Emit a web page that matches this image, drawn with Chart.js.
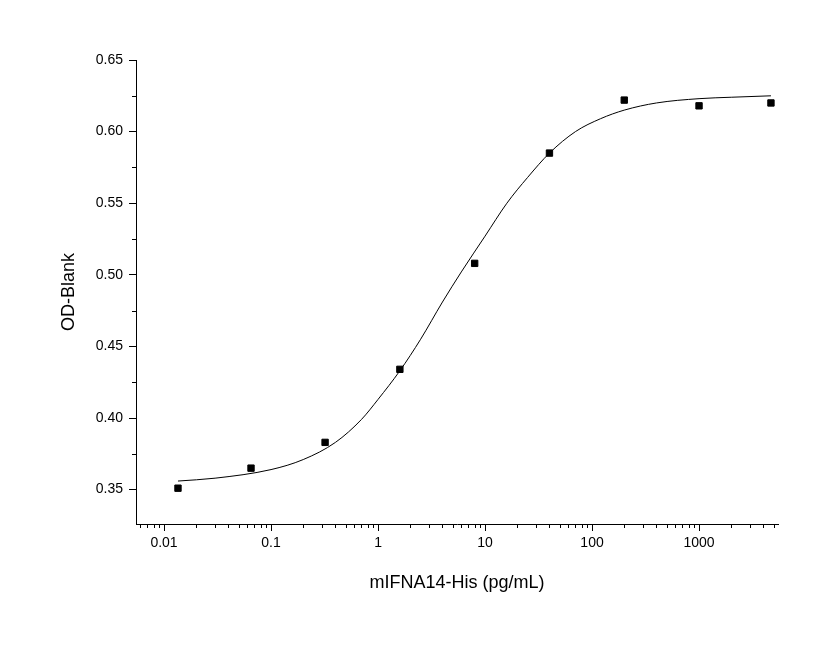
<!DOCTYPE html>
<html><head><meta charset="utf-8">
<script src="https://cdn.jsdelivr.net/npm/chart.js@4/dist/chart.umd.min.js"></script>
<style>html,body{margin:0;padding:0;background:#fff}#w{width:820px;height:648px}</style>
</head><body><div id="w"><canvas id="c"></canvas></div>
<script>
const doseX = [0.0135, 0.065, 0.32, 1.6, 8, 40, 200, 1000, 4700];
const odY = [0.351, 0.365, 0.383, 0.434, 0.508, 0.585, 0.622, 0.618, 0.620];
const fitX = [0.0135, 0.03, 0.1, 0.2, 0.4, 0.7, 1, 1.6, 2.5, 4, 6, 10, 16, 25, 40, 70, 120, 200, 400, 1000, 2000, 4700];
const fitY = [0.356, 0.358, 0.364, 0.371, 0.383, 0.399, 0.413, 0.433, 0.455, 0.481, 0.502, 0.527, 0.550, 0.568, 0.585, 0.600, 0.609, 0.615, 0.620, 0.623, 0.624, 0.625];
const xMajor = [0.01, 0.1, 1, 10, 100, 1000];
const xLabels = ['0.01', '0.1', '1', '10', '100', '1000'];
const yMajor = [0.35, 0.40, 0.45, 0.50, 0.55, 0.60, 0.65];

const F = 'Liberation Sans, Arial, sans-serif';
const minor = {
  id: 'minor',
  afterDraw(ch) {
    const c = ch.ctx, xs = ch.scales.x, ys = ch.scales.y, a = ch.chartArea;
    c.save(); c.strokeStyle = '#000'; c.lineWidth = 1;
    c.beginPath();
    for (let d = -3; d <= 3; d++) for (let m = 2; m <= 9; m++) {
      const v = m * Math.pow(10, d);
      if (v < xs.min || v > xs.max) continue;
      const p = Math.round(xs.getPixelForValue(v)) + 0.5;
      c.moveTo(p, a.bottom); c.lineTo(p, a.bottom + 4);
    }
    for (let v = 0.325; v < 0.66; v += 0.05) {
      if (v < ys.min || v > ys.max) continue;
      const p = Math.round(ys.getPixelForValue(v)) + 0.5;
      c.moveTo(a.left, p); c.lineTo(a.left - 4, p);
    }
    c.stroke(); c.restore();
  }
};
new Chart(document.getElementById('c'), {
  type: 'scatter',
  data: { datasets: [
    { type: 'line', data: fitX.map((x, i) => ({x, y: fitY[i]})), borderColor: '#000', borderWidth: 1, pointRadius: 0, cubicInterpolationMode: 'monotone', fill: false },
    { data: doseX.map((x, i) => ({x, y: odY[i]})), backgroundColor: '#000', borderColor: '#000', pointStyle: 'rect', pointRadius: 4.5 }
  ]},
  options: {
    responsive: true, maintainAspectRatio: false, animation: false,
    layout: { padding: { top: 60, right: 42, left: 54, bottom: 50 } },
    plugins: { legend: { display: false }, tooltip: { enabled: false } },
    scales: {
      x: { type: 'logarithmic', min: 0.00547, max: 5470,
        afterBuildTicks: s => { s.ticks = xMajor.map(v => ({value: v})); },
        afterFit: s => { s.height = 74; },
        ticks: { color: '#000', font: { family: F, size: 14 }, maxRotation: 0, padding: 4, callback: (v) => { const i = xMajor.findIndex(m => Math.abs(m - v) / m < 1e-6); return i >= 0 ? xLabels[i] : ''; } },
        grid: { drawOnChartArea: false, color: '#000', tickLength: 7 },
        border: { color: '#000', width: 1 },
        title: { display: true, text: 'mIFNA14-His (pg/mL)', color: '#000', font: { family: F, size: 18 }, padding: { top: 14 } }
      },
      y: { min: 0.326, max: 0.65,
        afterBuildTicks: s => { s.ticks = yMajor.map(v => ({value: v})); },
        afterFit: s => { s.width = 82; },
        ticks: { color: '#000', font: { family: F, size: 14 }, padding: 6, callback: v => v.toFixed(2) },
        grid: { drawOnChartArea: false, color: '#000', tickLength: 7 },
        border: { color: '#000', width: 1 },
        title: { display: true, text: 'OD-Blank', color: '#000', font: { family: F, size: 18 }, padding: { bottom: 6 } }
      }
    }
  },
  plugins: [minor]
});
</script></body></html>
